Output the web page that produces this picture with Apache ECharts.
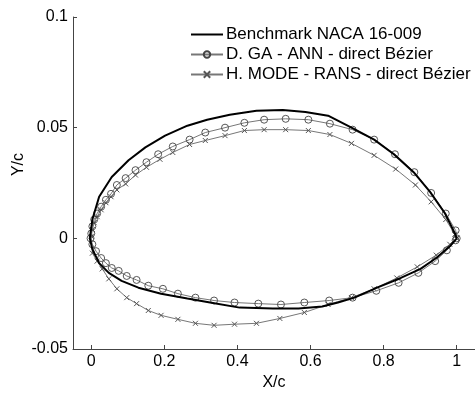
<!DOCTYPE html>
<html><head><meta charset="utf-8">
<script src="https://cdn.jsdelivr.net/npm/echarts@6/dist/echarts.min.js"></script>
<style>html,body{margin:0;padding:0;background:#fff}#c{width:475px;height:396px}</style>
</head><body><div id="c"></div>
<script>
const seriesNames = ['Benchmark NACA 16-009', 'D. GA - ANN - direct Bézier', 'H. MODE - RANS - direct Bézier'];
const xTicks = [0, 0.2, 0.4, 0.6, 0.8, 1];
const yTicks = [-0.05, 0, 0.05, 0.1];

// Benchmark (upper TE->LE, then lower LE->TE)
const benchX = [1.0,0.995,0.968,0.927,0.882,0.828,0.774,0.712,0.648,0.586,0.524,0.452,0.379,0.317,0.263,0.202,0.148,0.102,0.056,0.0215,0.003,-0.004,
                0.003,0.0215,0.048,0.083,0.129,0.191,0.263,0.325,0.406,0.497,0.567,0.632,0.675,0.720,0.782,0.847,0.901,0.944,0.981,1.0];
const benchY = [0,0.0022,0.0112,0.021,0.0299,0.038,0.0446,0.05,0.0554,0.0571,0.058,0.0576,0.0558,0.0536,0.0509,0.0464,0.0411,0.0353,0.0277,0.0188,0.0085,0,
                -0.0049,-0.0112,-0.0156,-0.0192,-0.0223,-0.025,-0.0272,-0.029,-0.0313,-0.0317,-0.0317,-0.0308,-0.029,-0.0268,-0.0223,-0.0179,-0.0138,-0.0089,-0.0036,0];

// D. GA - ANN
const gaX = [1.0,0.997,0.970,0.930,0.884,0.831,0.774,0.715,0.653,0.594,0.532,0.473,0.419,0.366,0.312,0.269,0.223,0.183,0.151,0.121,0.094,0.070,0.054,0.040,0.027,0.016,0.008,0.003,0.0,-0.002,
             0.003,0.013,0.027,0.040,0.056,0.075,0.097,0.124,0.156,0.196,0.237,0.285,0.336,0.392,0.457,0.519,0.583,0.651,0.715,0.780,0.841,0.895,0.941,0.973,0.997];
const gaY = [0,0.0036,0.0112,0.0205,0.0299,0.038,0.0446,0.0491,0.0518,0.0536,0.054,0.0536,0.0522,0.05,0.0478,0.0446,0.0415,0.038,0.0344,0.0308,0.0272,0.0241,0.0201,0.0174,0.0143,0.0112,0.0085,0.0054,0.0022,0,
             -0.0027,-0.0058,-0.0089,-0.0112,-0.0134,-0.0147,-0.017,-0.0188,-0.0214,-0.0228,-0.025,-0.0268,-0.0281,-0.029,-0.0295,-0.0299,-0.029,-0.0281,-0.0268,-0.0237,-0.0201,-0.0156,-0.0103,-0.0054,-0.0009];

// H. MODE - RANS
const modeX = [1.0,0.995,0.970,0.930,0.887,0.833,0.774,0.712,0.653,0.594,0.532,0.473,0.419,0.366,0.312,0.269,0.223,0.188,0.151,0.121,0.094,0.070,0.054,0.040,0.027,0.016,0.008,0.003,0.0,
               0.003,0.016,0.030,0.048,0.070,0.097,0.124,0.156,0.191,0.237,0.285,0.336,0.392,0.452,0.516,0.583,0.648,0.712,0.774,0.836,0.892,0.944,0.981,1.0];
const modeY = [0,0.0018,0.0085,0.0165,0.0241,0.0313,0.0375,0.0429,0.0469,0.0487,0.0491,0.0491,0.0487,0.0464,0.0442,0.0424,0.0388,0.0357,0.0321,0.0286,0.0246,0.0219,0.0188,0.0161,0.0129,0.0098,0.0071,0.004,0.0009,
               -0.0067,-0.0103,-0.0138,-0.0183,-0.0228,-0.0268,-0.0295,-0.0326,-0.0348,-0.0366,-0.0384,-0.0393,-0.0388,-0.0384,-0.0362,-0.0335,-0.0299,-0.0268,-0.0228,-0.0179,-0.0129,-0.0076,-0.0027,0];

const zip = (a, b) => a.map((v, i) => [v, b[i]]);
const font = 'Liberation Sans, Arial, sans-serif';
const chart = echarts.init(document.getElementById('c'), null, {renderer: 'canvas'});
chart.setOption({
  animation: false,
  backgroundColor: '#fff',
  grid: {left: 73, top: 17, width: 409, height: 337, containLabel: false},
  legend: {
    orient: 'vertical', left: 190, top: 26, itemWidth: 32, itemHeight: 8, itemGap: 3, padding: 0,
    textStyle: {fontFamily: font, fontSize: 17, color: '#000', padding: [0, 0, 0, -2]},
    data: seriesNames
  },
  graphic: [{
    type: 'text', left: 11, top: 153, rotation: Math.PI / 2,
    style: {text: 'Y/c', font: '16px ' + font, fill: '#000'}
  }],
  xAxis: {
    type: 'value', min: -0.05, max: 1.05,
    name: 'X/c', nameLocation: 'middle', nameGap: 26,
    nameTextStyle: {fontFamily: font, fontSize: 16, color: '#000'},
    axisLine: {show: true, onZero: false, lineStyle: {color: '#444', width: 1}},
    axisTick: {show: true, inside: true, length: 4, customValues: xTicks, lineStyle: {color: '#444'}},
    axisLabel: {customValues: xTicks, fontFamily: font, fontSize: 16, color: '#000', margin: 5},
    splitLine: {show: false}
  },
  yAxis: {
    type: 'value', min: -0.05, max: 0.1,
    axisLine: {show: true, onZero: false, lineStyle: {color: '#444', width: 1}},
    axisTick: {show: true, inside: true, length: 4, customValues: yTicks, lineStyle: {color: '#444'}},
    axisLabel: {customValues: yTicks, fontFamily: font, fontSize: 16, color: '#000', margin: 5},
    splitLine: {show: false}
  },
  series: [
    {
      name: seriesNames[0], type: 'line', data: zip(benchX, benchY), showSymbol: false, symbol: 'none',
      lineStyle: {color: '#000', width: 2}, itemStyle: {color: 'rgba(0,0,0,0)'}, z: 3
    },
    {
      name: seriesNames[1], type: 'line', data: zip(gaX, gaY), symbol: 'circle', symbolSize: 7, showSymbol: true, showAllSymbol: true,
      lineStyle: {color: '#777', width: 1}, itemStyle: {color: 'rgba(255,255,255,0)', borderColor: '#444', borderWidth: 0.9}, z: 2
    },
    {
      name: seriesNames[2], type: 'line', data: zip(modeX, modeY),
      symbol: 'path://M0,0L10,10M10,0L0,10', symbolSize: 5, showSymbol: true, showAllSymbol: true,
      lineStyle: {color: '#777', width: 1}, itemStyle: {color: 'none', borderColor: '#555', borderWidth: 1}, z: 1
    }
  ]
});
</script></body></html>
